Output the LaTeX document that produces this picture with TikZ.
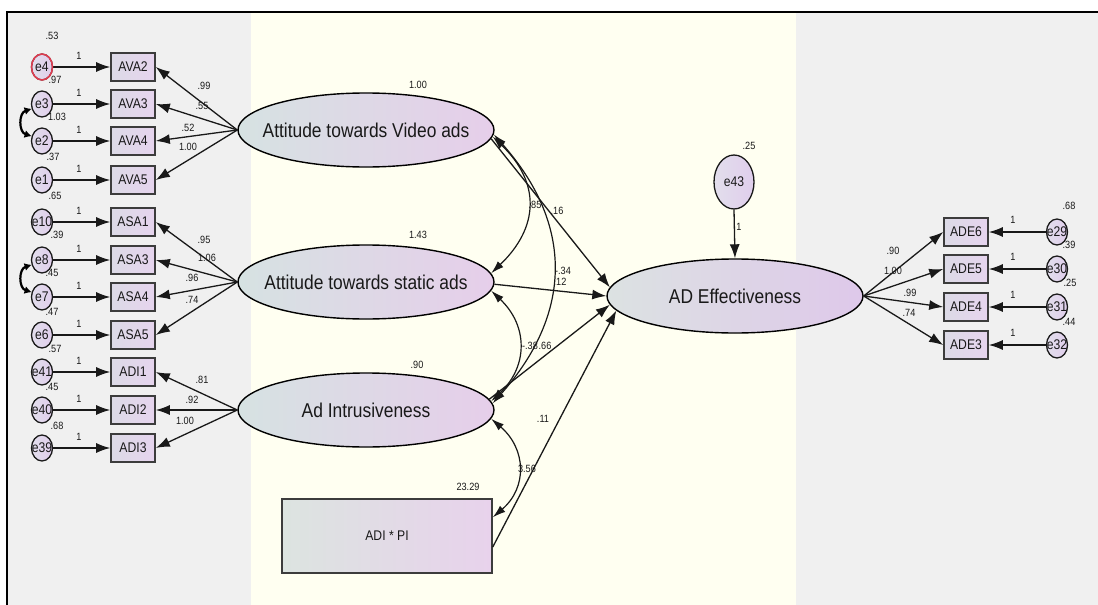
\documentclass[tikz,border=0pt]{standalone}
\usepackage{fontspec}
\newfontfamily\amos{Liberation Sans}[FakeStretch=0.87]
\usetikzlibrary{shapes.geometric,arrows.meta}
\definecolor{ivory}{RGB}{255,255,241}
\definecolor{panel}{RGB}{240,240,240}
\definecolor{shL}{RGB}{214,226,226}
\definecolor{shR}{RGB}{230,206,234}
\definecolor{boxL}{RGB}{220,218,230}
\definecolor{boxR}{RGB}{230,212,238}
\definecolor{errL}{RGB}{226,222,236}
\definecolor{errR}{RGB}{224,206,236}
\definecolor{ink}{RGB}{25,25,25}
\definecolor{redb}{RGB}{225,60,80}
\newcommand{\zw}[1]{\makebox[0pt]{#1}}
\begin{document}
\begin{tikzpicture}[x=1pt,y=-1pt,
  every node/.style={font=\amos, text=ink},
  lat/.style={ellipse, draw=black, line width=1.4pt, left color=shL, right color=shR,
    minimum width=256pt, minimum height=74pt, inner sep=0pt,
    font=\amos\fontsize{20}{20}\selectfont},
  obs/.style={rectangle, draw=ink!85, line width=1.6pt, left color=boxL, right color=boxR,
    minimum width=44pt, minimum height=28pt, inner sep=0pt,
    font=\amos\fontsize{14}{14}\selectfont},
  err/.style={ellipse, draw=ink, line width=1.3pt, left color=errL, right color=errR,
    minimum width=21pt, minimum height=26pt, inner sep=0pt,
    font=\amos\fontsize{14}{14}\selectfont},
  num/.style={inner sep=0pt, font=\amos\fontsize{10.5}{10.5}\selectfont},
  arr/.style={draw=ink, line width=1.3pt, -{Latex[length=14pt,width=10pt]}},
  cov/.style={draw=ink, line width=1.2pt, {Latex[length=13pt,width=8pt]}-{Latex[length=13pt,width=8pt]}},
  covs/.style={draw=black, line width=2.2pt, {Latex[length=7pt,width=8pt]}-{Latex[length=7pt,width=8pt]}},
]
\useasboundingbox (0,0) rectangle (1098,605);
\fill[white] (0,0) rectangle (1098,605);
\fill[panel] (7,12) rectangle (1098,605);
\fill[ivory] (251,12) rectangle (796,605);
\draw[black, line width=1.8pt] (7,605) -- (7,12) -- (1098,12);

% latent variables
\node[lat] (video) at (366,130) {\zw{Attitude towards Video ads}};
\node[lat] (static) at (366,282) {\zw{Attitude towards static ads}};
\node[lat] (intr) at (366,410) {\zw{Ad Intrusiveness}};
\node[lat, left color={rgb,255:red,220;green,226;blue,226}, right color={rgb,255:red,222;green,200;blue,234}] (adeff) at (735,296) {\zw{AD Effectiveness}};
\node[obs, minimum width=210pt, minimum height=74pt, line width=1.4pt,
  left color={rgb,255:red,220;green,228;blue,224}, right color={rgb,255:red,232;green,210;blue,236}] (adipi) at (387,536) {ADI * PI};
\node[err, minimum width=40pt, minimum height=54pt] (e43) at (734,182) {\zw{e43}};

% left indicators
\foreach \e/\b/\y/\v/\vx/\vy/\l in {
  e4/AVA2/67/.53/52/36/video, e3/AVA3/104/.97/55/80/video,
  e2/AVA4/141/1.03/57/117/video, e1/AVA5/180/.37/53/157/video,
  e10/ASA1/222/.65/55/196/static, e8/ASA3/260/.39/57/235/static,
  e7/ASA4/297/.45/52/273/static, e6/ASA5/335/.47/52/312/static,
  e41/ADI1/372/.57/55/349/intr, e40/ADI2/410/.45/52/387/intr,
  e39/ADI3/448/.68/57/426/intr} {
  \node[err] (\e) at (42,\y) {\zw{\e}};
  \node[obs] (\b) at (133,\y) {\b};
  \draw[arr] (\e) -- (\b);
  \draw[arr] (\l.west) -- (\b.east);
  \node[num] (one\e) at (79,\y-11) {1};
  \node[num] (var\e) at (\vx,\vy) {\v};
}
\draw[redb, line width=1.5pt] (e4.center) ellipse (10.5 and 13);

% right indicators
\foreach \e/\b/\y/\v/\vx/\vy in {
  e29/ADE6/232/.68/1069/206, e30/ADE5/269/.39/1069/245,
  e31/ADE4/307/.25/1070/283, e32/ADE3/345/.44/1069/322} {
  \node[err] (\e) at (1057,\y) {\zw{\e}};
  \node[obs] (\b) at (966,\y) {\b};
  \draw[arr] (\e) -- (\b);
  \draw[arr] (adeff.east) -- (\b.west);
  \node[num] (one\e) at (1013,\y-12) {1};
  \node[num] (var\e) at (\vx,\vy) {\v};
}

% small error covariances
\draw[covs] (e3.205) .. controls +(-13,4) and +(-13,-4) .. (e2.155);
\draw[covs] (e8.205) .. controls +(-13,4) and +(-13,-4) .. (e7.155);

% structural paths
\draw[arr] (e43.south) -- (adeff.north);
\draw[arr] (video.-4) -- (adeff.176);
\draw[arr] (static.-1) -- (adeff.180);
\draw[arr] (intr.5) -- (adeff.184);
\draw[arr] (adipi.-6) -- (adeff.187);

% covariances
\draw[cov] (video.-3) .. controls +(48,46) and +(48,-46) .. (static.4);
\draw[cov] (video.-2) .. controls +(80,90) and +(80,-90) .. (intr.3);
\draw[cov] (static.-4) .. controls +(37,35) and +(37,-35) .. (intr.4);
\draw[cov] (intr.-4) .. controls +(35,30) and +(35,-30) .. (adipi.10);

% numeric labels
\foreach \t/\x/\y [count=\i] in {
  1.00/418/85, 1.43/418/235, .90/417/365, 23.29/468/487, .25/749/146, 1/739/227,
  .16/557/211, .85/535/205, -.34/563/271, .12/560/282, -.38/530/346, .66/545/346,
  .11/543/419, 3.56/527/469,
  .99/204/86, .55/202/106, .52/188/128, 1.00/188/147,
  .95/204/240, 1.06/207/258, .96/192/278, .74/192/300,
  .81/202/380, .92/192/400, 1.00/185/421,
  .90/893/251, 1.00/893/271, .99/910/293, .74/909/313} {
  \node[num] (lab\i) at (\x,\y) {\t};
}
\end{tikzpicture}
\end{document}
